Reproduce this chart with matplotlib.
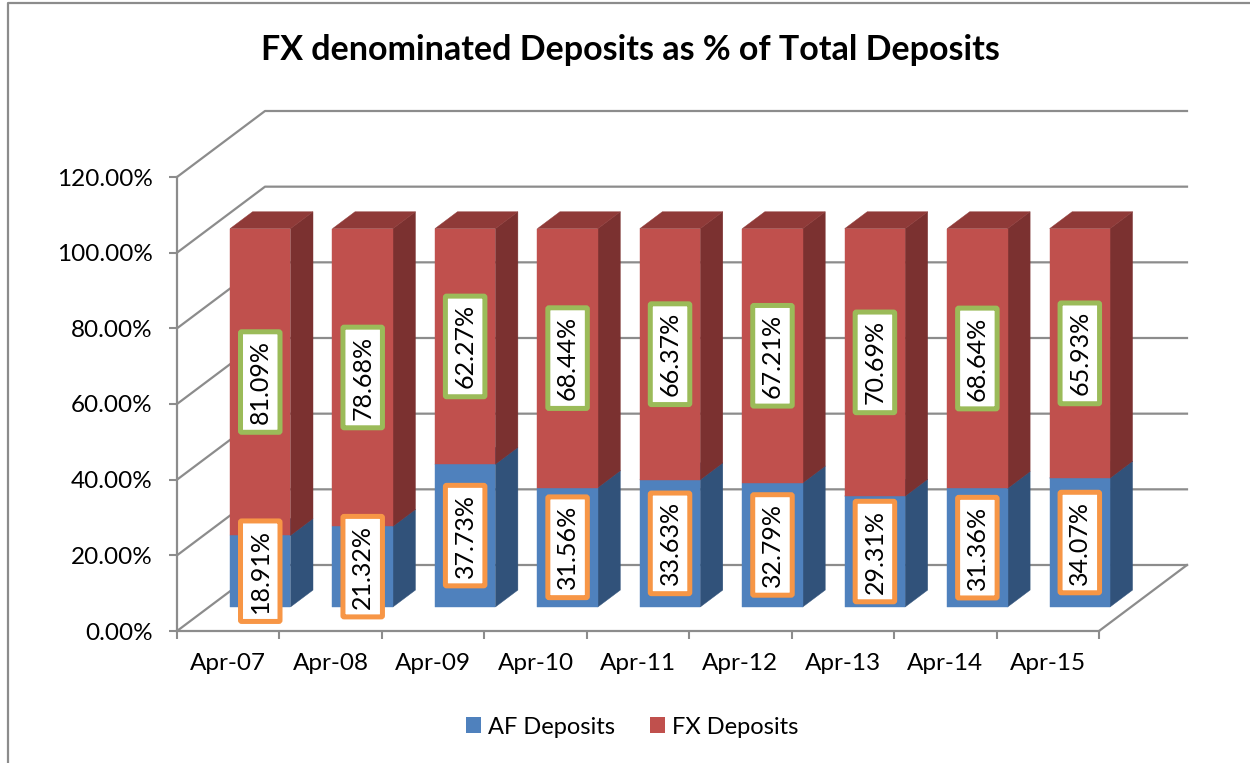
import matplotlib

matplotlib.use("Agg")
from matplotlib import pyplot as plt
from matplotlib.lines import Line2D
from matplotlib.patches import Patch, Polygon

categories = ["Apr-07", "Apr-08", "Apr-09", "Apr-10", "Apr-11", "Apr-12", "Apr-13", "Apr-14", "Apr-15"]
af_deposits = [18.91, 21.32, 37.73, 31.56, 33.63, 32.79, 29.31, 31.36, 34.07]
fx_deposits = [81.09, 78.68, 62.27, 68.44, 66.37, 67.21, 70.69, 68.64, 65.93]
y_ticks = [0, 20, 40, 60, 80, 100, 120]
y_labels = ["0.00%", "20.00%", "40.00%", "60.00%", "80.00%", "100.00%", "120.00%"]

W, H = 1250, 763
BLUE = ("#4F81BD", "#31527A", "#3A6090")
RED = ("#C0504D", "#7B3130", "#8F3A38")
GRID = "#8C8C8C"
FONT = "Lato"

# oblique projection: how far the back wall sits from the front axis, in data units
DEPTH_X = 88 / (922 / 9)
DEPTH_Y = 66 / (454 / 120)
BAR_FRONT = 0.364
BAR_BACK = 0.62
BAR_WIDTH = 0.59


def project(x, y, depth):
    return (x + depth * DEPTH_X, y + depth * DEPTH_Y)


def draw_segment(axis, left, bottom, top, colors, zorder):
    right = left + BAR_WIDTH
    front = [project(left, bottom, BAR_FRONT), project(right, bottom, BAR_FRONT),
             project(right, top, BAR_FRONT), project(left, top, BAR_FRONT)]
    side = [project(right, bottom, BAR_FRONT), project(right, bottom, BAR_BACK),
            project(right, top, BAR_BACK), project(right, top, BAR_FRONT)]
    lid = [project(left, top, BAR_FRONT), project(right, top, BAR_FRONT),
           project(right, top, BAR_BACK), project(left, top, BAR_BACK)]
    for points, color in ((side, colors[1]), (lid, colors[2]), (front, colors[0])):
        axis.add_patch(Polygon(points, closed=True, facecolor=color, edgecolor=color,
                               linewidth=0.3, clip_on=False, zorder=zorder))


figure = plt.figure(figsize=(W / 100, H / 100), dpi=100, facecolor="white")
axis = figure.add_axes([177 / W, (H - 631) / H, 922 / W, 454 / H])
axis.set_xlim(0, len(categories))
axis.set_ylim(0, 120)
axis.patch.set_visible(False)

for name in ("top", "right"):
    axis.spines[name].set_visible(False)
for name in ("left", "bottom"):
    axis.spines[name].set_color(GRID)
    axis.spines[name].set_linewidth(1.6)

axis.set_yticks(y_ticks)
axis.set_yticklabels(y_labels, fontsize=17.5, fontfamily=FONT, color="black")
axis.tick_params(axis="y", length=5.5, width=1.5, color=GRID, pad=12)
axis.set_xticks(range(len(categories) + 1))
axis.set_xticklabels([])
axis.set_xticks([i + 0.5 for i in range(len(categories))], minor=True)
axis.set_xticklabels(categories, minor=True, fontsize=17.5, fontfamily=FONT, color="black")
axis.tick_params(axis="x", which="major", length=5.5, width=1.5, color=GRID)
axis.tick_params(axis="x", which="minor", length=0, pad=16)

# gridlines run along the side wall and then along the back wall
for value in y_ticks:
    start = project(0, value, 0)
    corner = project(0, value, 1)
    end = project(len(categories), value, 1)
    axis.plot([start[0], corner[0], end[0]], [start[1], corner[1], end[1]],
              color=GRID, linewidth=1.6, clip_on=False, zorder=1)

# right edge of the floor
floor_a = project(len(categories), 0, 0)
floor_b = project(len(categories), 0, 1)
axis.plot([floor_a[0], floor_b[0]], [floor_a[1], floor_b[1]], color=GRID, linewidth=1.6, clip_on=False, zorder=1)

for index, (af, fx) in enumerate(zip(af_deposits, fx_deposits)):
    left = index + (1 - BAR_WIDTH) / 2
    draw_segment(axis, left, 0, af, BLUE, 3 + index)
    draw_segment(axis, left, af, af + fx, RED, 3 + index)

    for value, base, edge in ((af, 0, "#F79646"), (fx, af, "#9BBB59")):
        x, y = project(left + BAR_WIDTH / 2, base + value / 2, BAR_FRONT)
        axis.text(x, y, f"{value:.2f}%", rotation=90, ha="center", va="center", fontsize=18,
                  fontfamily=FONT, color="black", zorder=30, clip_on=False,
                  bbox={"boxstyle": "round,pad=0.33,rounding_size=0.05", "facecolor": "white",
                        "edgecolor": edge, "linewidth": 3.6})

figure.suptitle("FX denominated Deposits as % of Total Deposits", x=630.5 / W, y=1 - 50 / H, va="center",
                fontsize=24.5, fontweight="bold", fontfamily=FONT, color="black")

handles = [Patch(facecolor=BLUE[0], label="AF Deposits"), Patch(facecolor=RED[0], label="FX Deposits")]
figure.legend(handles=handles, loc="center", bbox_to_anchor=(632.5 / W, 1 - 727 / H), ncol=2, frameon=False,
              prop={"family": FONT, "size": 17}, handlelength=0.64, handleheight=0.64,
              handletextpad=0.3, columnspacing=1.48)

# chart area border, cut by the edge of the picture
figure.add_artist(Line2D([8 / W, 8 / W, 1], [0, 1 - 3 / H, 1 - 3 / H], color="#8C8C8C", linewidth=1.6))

figure.savefig("out.png", dpi=100)
plt.close(figure)
